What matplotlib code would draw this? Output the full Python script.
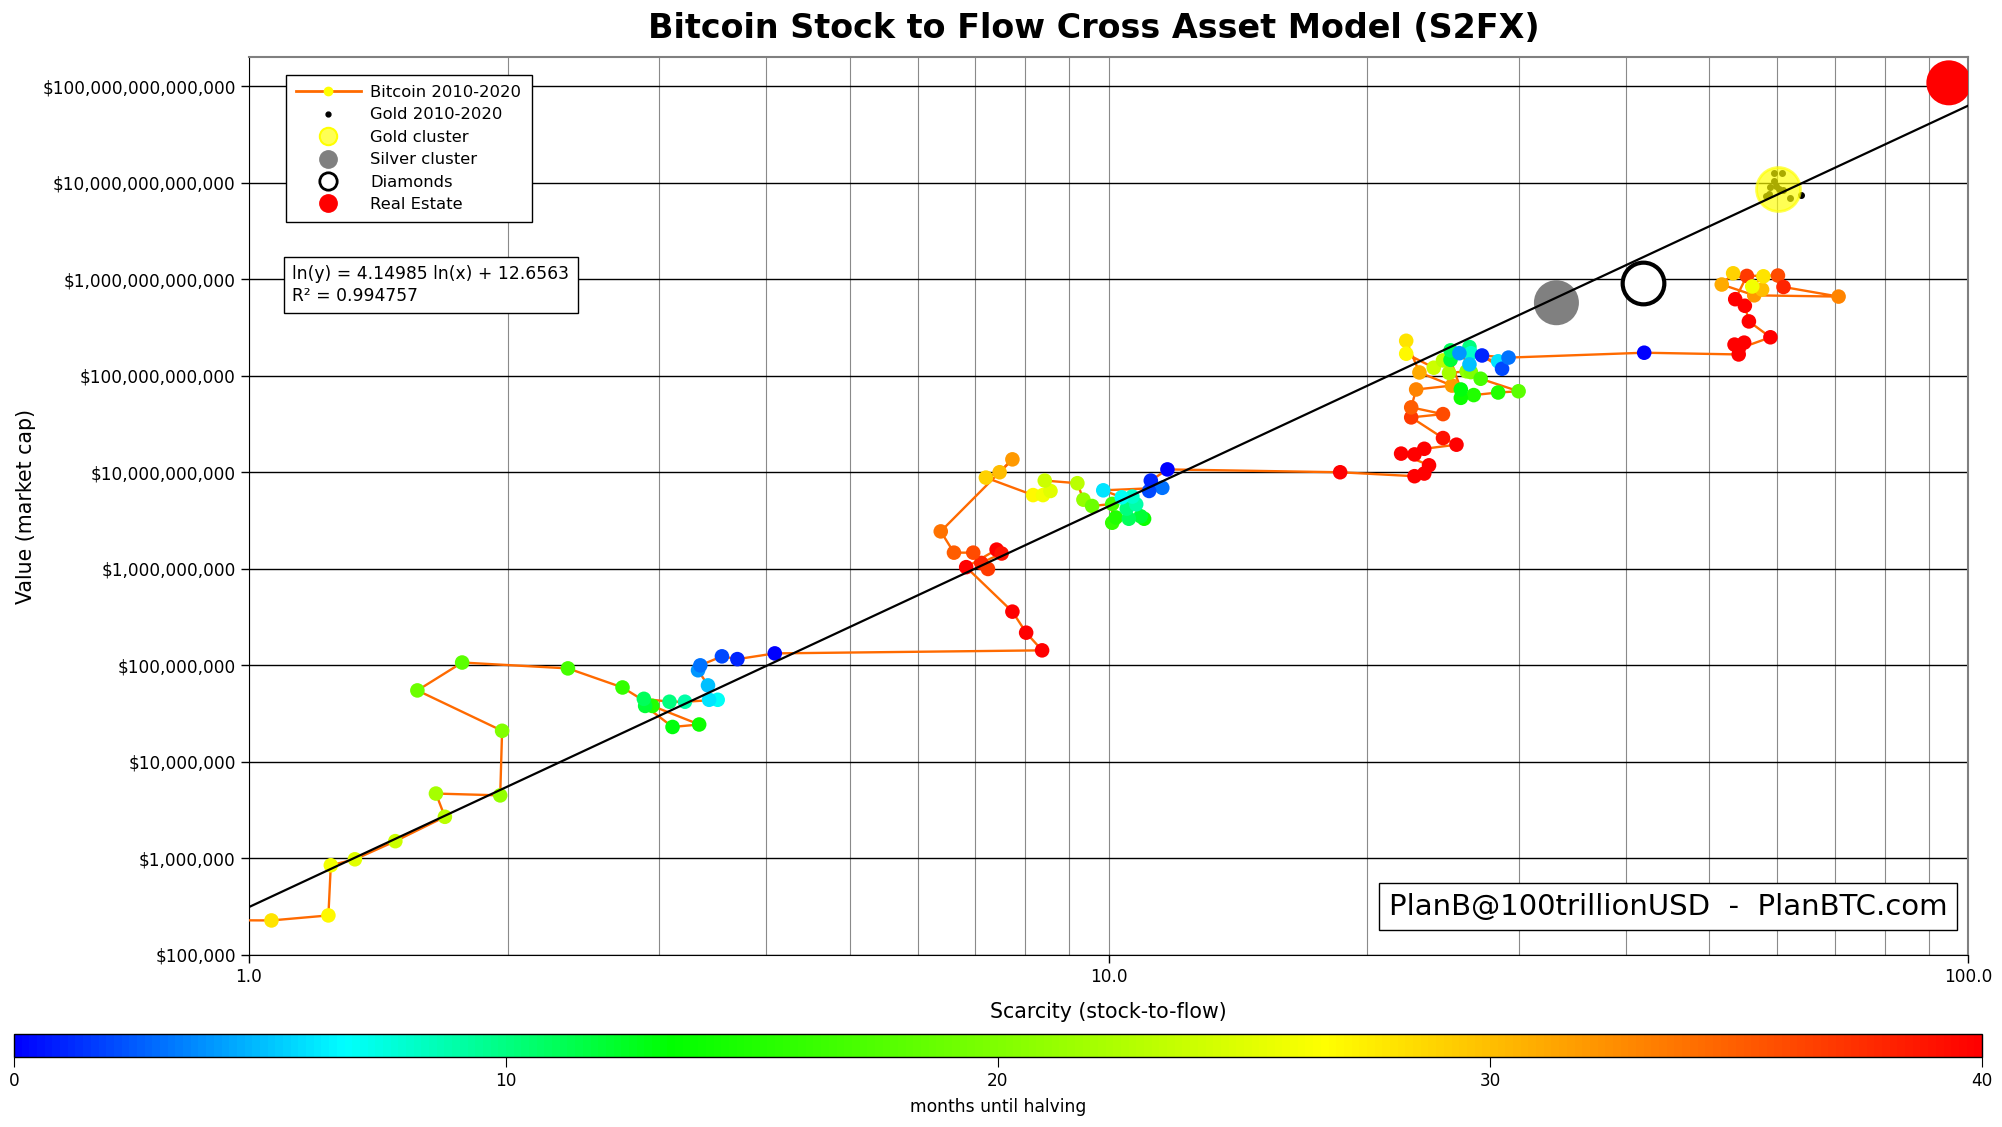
import numpy as np
import matplotlib
matplotlib.use("Agg")
import matplotlib.pyplot as plt
from matplotlib.colors import LinearSegmentedColormap
from matplotlib.lines import Line2D
from matplotlib.ticker import FuncFormatter, LogLocator, NullFormatter, NullLocator

# Bitcoin monthly points: stock-to-flow, market cap (USD), months until halving
btc_sf = [0.85, 1.062, 1.237, 1.245, 1.328, 1.48, 1.69, 1.65, 1.96, 1.97, 1.57, 1.77,
          2.35, 2.72, 2.946, 3.34, 3.11, 2.89, 2.88, 3.085, 3.215, 3.51, 3.43, 3.42,
          3.33, 3.35, 3.55, 3.70, 4.09,
          8.37, 8.02, 7.73, 6.83, 7.41, 7.51, 7.11, 7.24, 6.96, 6.61, 6.38, 7.73,
          7.47, 7.20, 8.17, 8.39, 8.56, 8.43, 9.2, 9.35, 9.57, 10.1, 10.1, 10.2,
          11.0, 10.9, 10.56, 10.5, 10.77, 10.66, 10.36, 9.86, 11.55, 11.15, 11.2, 11.71,
          18.6, 22.7, 23.3, 23.6, 21.9, 22.7, 23.3, 25.4, 24.5, 22.5, 24.5, 22.5,
          22.8, 25.1, 23.0, 22.2, 22.2, 23.9, 24.5, 24.9, 26.1, 26.4, 27.1, 30.0,
          28.4, 26.6, 25.7, 25.7, 25.0, 25.0, 26.3, 26.4, 26.3, 25.6, 28.4, 28.7,
          27.2, 29.2, 42.0,
          54.1, 53.5, 54.9, 54.1, 58.9, 55.6, 55.0, 53.6, 55.3, 60.1, 61.0, 70.7,
          56.4, 51.7, 53.3, 57.6, 57.8, 56.1]
btc_cap = [2.3e5, 2.28e5, 2.57e5, 8.5e5, 9.8e5, 1.51e6, 2.7e6, 4.7e6, 4.5e6, 2.1e7, 5.5e7, 1.07e8,
           9.3e7, 5.9e7, 3.8e7, 2.44e7, 2.3e7, 3.8e7, 4.5e7, 4.2e7, 4.2e7, 4.4e7, 4.4e7, 6.2e7,
           8.9e7, 1.0e8, 1.24e8, 1.16e8, 1.33e8,
           1.43e8, 2.18e8, 3.6e8, 1.04e9, 1.58e9, 1.44e9, 1.15e9, 9.96e8, 1.47e9, 1.47e9, 2.44e9, 1.36e10,
           1.0e10, 8.8e9, 5.8e9, 5.8e9, 6.4e9, 8.2e9, 7.7e9, 5.2e9, 4.47e9, 4.7e9, 3.0e9, 3.4e9,
           3.3e9, 3.5e9, 3.3e9, 4.2e9, 4.66e9, 5.6e9, 5.5e9, 6.5e9, 6.9e9, 6.4e9, 8.2e9, 1.07e10,
           1.0e10, 9.1e9, 9.7e9, 1.18e10, 1.56e10, 1.53e10, 1.75e10, 1.93e10, 2.26e10, 3.7e10, 4.0e10, 4.7e10,
           7.2e10, 7.9e10, 1.08e11, 2.3e11, 1.69e11, 1.21e11, 1.44e11, 1.07e11, 1.11e11, 1.09e11, 9.3e10, 6.9e10,
           6.7e10, 6.3e10, 5.9e10, 7.2e10, 1.46e11, 1.83e11, 1.98e11, 1.71e11, 1.31e11, 1.71e11, 1.41e11, 1.18e11,
           1.62e11, 1.54e11, 1.73e11,
           1.66e11, 2.1e11, 2.2e11, 1.9e11, 2.5e11, 3.65e11, 5.3e11, 6.2e11, 1.08e12, 1.09e12, 8.3e11, 6.6e11,
           6.8e11, 8.8e11, 1.15e12, 7.8e11, 1.07e12, 8.4e11]
btc_months = [28, 28, 27, 26, 25, 24, 23, 22, 21, 20, 19, 18,
              17, 16, 15, 14, 13, 12, 11, 10, 9, 7, 6, 5,
              4, 3, 2, 1, 0,
              44, 43, 42, 41, 40, 39, 38, 37, 36, 35, 34, 32,
              30, 29, 27, 26, 25, 24, 23, 21, 19, 17, 16, 15,
              14, 12, 11, 10, 9, 8, 7, 6, 3, 2, 1, 0,
              47, 46, 45, 44, 43, 42, 41, 40, 39, 37, 36, 35,
              33, 32, 31, 28, 27, 24, 23, 22, 21, 20, 17, 18,
              15, 15, 14, 13, 12, 11, 10, 8, 5, 4, 6, 2,
              1, 3, 0,
              47, 46, 45, 44, 43, 42, 41, 40, 37, 36, 38, 33,
              32, 31, 29, 30, 28, 26]

# Gold 2010-2020 points
gold_sf = [59.5, 60.7, 59.4, 58.9, 59.8, 60.3, 61.0, 58.6, 58.2, 62.0, 63.9]
gold_cap = [1.25e13, 1.26e13, 1.05e13, 8.96e12, 9.3e12, 8.6e12, 8.3e12, 7.7e12, 7.2e12, 6.9e12, 7.5e12]

# Asset clusters: stock-to-flow, market cap
clusters = ["Gold cluster", "Silver cluster", "Diamonds", "Real Estate"]
cluster_sf = [60.1, 33.2, 41.9, 95.0]
cluster_cap = [8.6e12, 5.7e11, 9.2e11, 1.08e14]

# regression from the chart
fit_a = 4.14985
fit_b = 12.6563
fit_r2 = 0.994757

x_ticks = [1.0, 10.0, 100.0]
y_ticks = [1e5, 1e6, 1e7, 1e8, 1e9, 1e10, 1e11, 1e12, 1e13, 1e14]
cbar_ticks = [0, 10, 20, 30, 40]

orange = "#ff6a00"
cmap = LinearSegmentedColormap.from_list(
    "s2fx", [(0, "blue"), (1 / 6, "cyan"), (1 / 3, "lime"), (2 / 3, "yellow"), (1, "red")])

fig = plt.figure(figsize=(20.02, 11.27), dpi=100)
ax = fig.add_axes([0.12438, 0.15262, 0.85864, 0.79681])
cax = fig.add_axes([0.00699, 0.06211, 0.98302, 0.02041])

ax.set_xscale("log")
ax.set_yscale("log")
ax.set_xlim(1, 100)
ax.set_ylim(1e5, 2e14)

# bitcoin path and coloured points
ax.plot(btc_sf, btc_cap, "-", color=orange, lw=1.7, zorder=3)
sc = ax.scatter(btc_sf, btc_cap, c=btc_months, cmap=cmap, vmin=0, vmax=40,
                s=110, edgecolors="none", zorder=4)

# gold dots under the gold cluster
ax.plot(gold_sf, gold_cap, "o", color="black", ms=4, zorder=5)
ax.scatter(cluster_sf[0], cluster_cap[0], s=1000, color="yellow", alpha=0.67,
           edgecolors="yellow", linewidths=2, zorder=6)
ax.scatter(cluster_sf[1], cluster_cap[1], s=1050, color="gray", edgecolors="none", zorder=6)
ax.scatter(cluster_sf[2], cluster_cap[2], s=900, facecolors="white", edgecolors="black",
           linewidths=3, zorder=6)
ax.scatter(cluster_sf[3], cluster_cap[3], s=1050, color="red", edgecolors="none", zorder=6)

# model line
xs = np.logspace(0, 2, 200)
ax.plot(xs, np.exp(fit_b) * xs ** fit_a, color="black", lw=1.6, zorder=7)

# grid
ax.set_axisbelow(True)
ax.xaxis.set_minor_locator(LogLocator(base=10, subs=np.arange(2, 10)))
ax.xaxis.set_minor_formatter(NullFormatter())
ax.grid(True, which="both", axis="x", color="#8a8a8a", lw=0.8)
ax.grid(True, which="major", axis="y", color="black", lw=1.0)

ax.set_xticks(x_ticks)
ax.xaxis.set_major_formatter(FuncFormatter(lambda v, p: "{:.1f}".format(v)))
ax.set_yticks(y_ticks)
ax.yaxis.set_major_formatter(FuncFormatter(lambda v, p: "${:,.0f}".format(v)))
ax.yaxis.set_minor_locator(NullLocator())
ax.yaxis.set_minor_formatter(NullFormatter())
ax.tick_params(axis="both", which="major", labelsize=12.2, length=6, width=1)
ax.tick_params(axis="both", which="minor", length=0)
ax.spines["top"].set_color("#808080")
ax.spines["right"].set_color("#808080")
ax.spines["top"].set_linewidth(1.5)
ax.spines["right"].set_linewidth(1.5)

ax.set_xlabel("Scarcity (stock-to-flow)", fontsize=14.8)
ax.xaxis.set_label_coords(0.5, -0.052)
ax.set_ylabel("Value (market cap)", fontsize=14.8)
ax.yaxis.set_label_coords(-0.124, 0.5)

fig.text(0.5463, 0.975, "Bitcoin Stock to Flow Cross Asset Model (S2FX)",
         fontsize=24, fontweight="bold", ha="center", va="center")

# legend
handles = [
    Line2D([], [], color=orange, lw=2, marker="o", ms=6, mfc="yellow", mec="yellow"),
    Line2D([], [], ls="none", marker="o", color="black", ms=3.5),
    Line2D([], [], ls="none", marker="o", ms=12.5, mfc=(1, 1, 0, 0.67), mec="yellow", mew=1.5),
    Line2D([], [], ls="none", marker="o", ms=12.5, mfc="gray", mec="gray"),
    Line2D([], [], ls="none", marker="o", ms=12.5, mfc="white", mec="black", mew=2),
    Line2D([], [], ls="none", marker="o", ms=12.5, mfc="red", mec="red"),
]
labels = ["Bitcoin 2010-2020", "Gold 2010-2020"] + clusters
leg = ax.legend(handles, labels, loc="upper left", bbox_to_anchor=(0.0215, 0.98),
                borderaxespad=0, borderpad=0.62, fontsize=11.8, handlelength=3.93,
                handletextpad=0.6, labelspacing=0.45, fancybox=False,
                edgecolor="black", framealpha=1)
leg.get_frame().set_linewidth(1)
leg.set_zorder(10)

ax.text(0.0252, 0.768, "ln(y) = {} ln(x) + {}\nR² = {}".format(fit_a, fit_b, fit_r2),
        transform=ax.transAxes, fontsize=12.3, ha="left", va="top", zorder=10,
        linespacing=1.25,
        bbox=dict(boxstyle="square,pad=0.5", fc="white", ec="black", lw=1))

ax.text(0.8255, 0.054, "PlanB@100trillionUSD  -  PlanBTC.com", transform=ax.transAxes,
        fontsize=21, ha="center", va="center", zorder=10,
        bbox=dict(boxstyle="square,pad=0.33", fc="white", ec="black", lw=1))

# colour bar
cbar = fig.colorbar(sc, cax=cax, orientation="horizontal", ticks=cbar_ticks)
cbar.ax.tick_params(labelsize=12.2, length=7)
cbar.set_label("months until halving", fontsize=12.3, labelpad=6)
cbar.outline.set_linewidth(1)

fig.savefig("out.png", dpi=100)
